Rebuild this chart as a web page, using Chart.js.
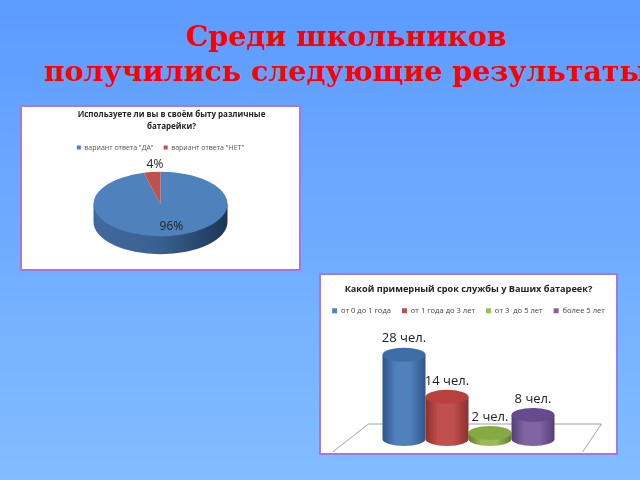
<!DOCTYPE html>
<html lang="ru">
<head>
<meta charset="utf-8">
<title>Среди школьников</title>
<script src="https://cdn.jsdelivr.net/npm/chart.js@4"></script>
<style>
    html, body { margin: 0; width: 640px; height: 480px; overflow: hidden; }
    body { position: relative; background: linear-gradient(#5c9bff, #82bdff); }
    h1 {
        position: absolute; left: 0; top: 19px; width: 700px; margin: 0;
        font: bold 28.4px/35px "DejaVu Serif", serif; color: #ff0000; white-space: nowrap;
    }
    h1 span { position: absolute; }
    .card {
        position: absolute; box-sizing: border-box; background: #fff;
        border: 2px solid #a478e0; overflow: hidden;
    }
    .card canvas { display: block; filter: blur(0.5px); }
    #pieCard { left: 20px; top: 105px; width: 281px; height: 166px; }
    #barCard { left: 319px; top: 273px; width: 299px; height: 182px; }
</style>
</head>
<body>
<h1><span style="left:186px;top:0">Среди школьников</span><span style="left:44px;top:35px">получились следующие результаты</span></h1>
<div class="card" id="pieCard"><canvas id="pieChart" width="277" height="162"></canvas></div>
<div class="card" id="barCard"><canvas id="barChart" width="295" height="178"></canvas></div>
<script>
const pieTitle = ['Используете ли вы в своём быту различные', 'батарейки?'];
const pieLabels = ['вариант ответа "ДА"', 'вариант ответа "НЕТ"'];
const pieValues = [96, 4];
const pieColors = ['#4f81bd', '#c0504d'];

const barTitle = 'Какой примерный срок службы у Ваших батареек?';
const barLabels = ['от 0 до 1 года', 'от 1 года до 3 лет', 'от 3  до 5 лет', 'более 5 лет'];
const barValues = [28, 14, 2, 8];
const barColors = ['#4f81bd', '#c0504d', '#9bbb59', '#8064a2'];

const labelFont = '"Open Sans", sans-serif';
const squash = 0.48;
const pieDepth = 18;

// наклон круговой диаграммы и её боковая стенка
const tiltPlugin = {
    id: 'tilt',
    afterLayout(chart) {
        // заголовок в оригинале сдвинут вправо от центра круга
        chart.titleBlock.left += 22;
    },
    beforeDatasetsDraw(chart) {
        const arc = chart.getDatasetMeta(0).data[0];
        const ctx = chart.ctx;
        const r = arc.outerRadius, ry = r * squash;
        const side = ctx.createLinearGradient(arc.x - r, 0, arc.x + r, 0);
        side.addColorStop(0, '#41699c');
        side.addColorStop(0.5, '#38608f');
        side.addColorStop(1, '#1c3655');
        ctx.save();
        ctx.fillStyle = side;
        ctx.beginPath();
        ctx.ellipse(arc.x, arc.y + pieDepth, r, ry, 0, 0, Math.PI);
        ctx.lineTo(arc.x - r, arc.y);
        ctx.lineTo(arc.x + r, arc.y);
        ctx.closePath();
        ctx.fill();
        ctx.restore();
        ctx.save();
        ctx.translate(arc.x, arc.y);
        ctx.scale(1, squash);
        ctx.translate(-arc.x, -arc.y);
    },
    afterDatasetsDraw(chart) {
        const ctx = chart.ctx;
        ctx.restore();
        ctx.save();
        ctx.font = '12px ' + labelFont;
        ctx.fillStyle = '#222';
        ctx.textAlign = 'center';
        ctx.textBaseline = 'middle';
        chart.getDatasetMeta(0).data.forEach((arc, i) => {
            const mid = (arc.startAngle + arc.endAngle) / 2;
            const f = pieValues[i] < 10 ? 1.25 : 0.7;
            const x = arc.x + Math.cos(mid) * arc.outerRadius * f + 5;
            const y = arc.y + Math.sin(mid) * arc.outerRadius * f * squash;
            ctx.fillText(pieValues[i] + '%', x, y);
        });
        ctx.restore();
    }
};

new Chart(document.getElementById('pieChart').getContext('2d'), {
    type: 'pie',
    data: {
        labels: pieLabels,
        datasets: [{
            data: pieValues,
            backgroundColor: pieColors,
            borderWidth: 0,
            radius: 67,
            clip: false
        }]
    },
    options: {
        responsive: false,
        animation: false,
        layout: { padding: { top: 2, bottom: 22 } },
        plugins: {
            title: {
                display: true, text: pieTitle, color: '#222',
                font: { family: labelFont, size: 8, weight: 'bold', lineHeight: 1.5 },
                padding: { top: 0, bottom: 1 }
            },
            legend: {
                position: 'top',
                labels: { boxWidth: 4, boxHeight: 4, color: '#555', padding: 10, font: { family: labelFont, size: 7 } }
            },
            tooltip: { enabled: false }
        }
    },
    plugins: [tiltPlugin]
});

// цилиндры вместо обычных столбцов
function drawCylinder(ctx, bar, color, dark, top) {
    const rx = bar.width / 2, ry = 7;
    const g = ctx.createLinearGradient(bar.x - rx, 0, bar.x + rx, 0);
    g.addColorStop(0, dark);
    g.addColorStop(0.3, color);
    g.addColorStop(0.65, color);
    g.addColorStop(1, dark);
    ctx.fillStyle = g;
    ctx.beginPath();
    ctx.ellipse(bar.x, bar.base, rx, ry, 0, 0, Math.PI);
    ctx.lineTo(bar.x - rx, bar.y);
    ctx.lineTo(bar.x + rx, bar.y);
    ctx.closePath();
    ctx.fill();
    ctx.fillStyle = top;
    ctx.beginPath();
    ctx.ellipse(bar.x, bar.y, rx, ry, 0, 0, Math.PI * 2);
    ctx.fill();
}

const barDark = ['#2f5688', '#8e2f2c', '#5f7d2c', '#553e78'];
const barTop = ['#3f6ea6', '#b8413e', '#86aa42', '#654a8c'];
const drawOrder = [0, 2, 1, 3];

const cylinderPlugin = {
    id: 'cylinder',
    beforeDatasetsDraw(chart) {
        const ctx = chart.ctx;
        const area = chart.chartArea;
        const mid = (area.left + area.right) / 2;
        // пол диаграммы
        ctx.save();
        ctx.strokeStyle = '#8a8a8a';
        ctx.lineWidth = 0.8;
        ctx.beginPath();
        ctx.moveTo(mid - 136, area.bottom + 13);
        ctx.lineTo(mid - 100, area.bottom - 15);
        ctx.lineTo(mid + 133, area.bottom - 15);
        ctx.lineTo(mid + 114, area.bottom + 13);
        ctx.stroke();
        drawOrder.forEach(i => {
            const bar = chart.getDatasetMeta(i).data[0];
            const props = bar.getProps(['x', 'y', 'base', 'width', 'height'], true);
            drawCylinder(ctx, props, barColors[i], barDark[i], barTop[i]);
        });
        ctx.font = '13px ' + labelFont;
        ctx.fillStyle = '#222';
        ctx.textAlign = 'center';
        ctx.textBaseline = 'middle';
        barValues.forEach((v, i) => {
            const bar = chart.getDatasetMeta(i).data[0];
            ctx.fillText(v + ' чел.', bar.x, bar.y - 16);
        });
        ctx.restore();
        return false;
    }
};

new Chart(document.getElementById('barChart').getContext('2d'), {
    type: 'bar',
    data: {
        labels: [''],
        datasets: barLabels.map((label, i) => ({
            label: label,
            data: [barValues[i]],
            backgroundColor: barColors[i],
            barThickness: 43
        }))
    },
    options: {
        responsive: false,
        animation: false,
        layout: { padding: { top: 3, bottom: 14 } },
        scales: {
            x: { display: false },
            y: { display: false, min: 0, max: 38 }
        },
        plugins: {
            title: {
                display: true, text: barTitle, color: '#222',
                font: { family: labelFont, size: 9.2, weight: 'bold' },
                padding: { top: 6, bottom: 1 }
            },
            legend: {
                position: 'top',
                labels: { boxWidth: 5, boxHeight: 5, color: '#444', padding: 11, font: { family: labelFont, size: 7.6 } }
            },
            tooltip: { enabled: false }
        }
    },
    plugins: [cylinderPlugin]
});
</script>
</body>
</html>
